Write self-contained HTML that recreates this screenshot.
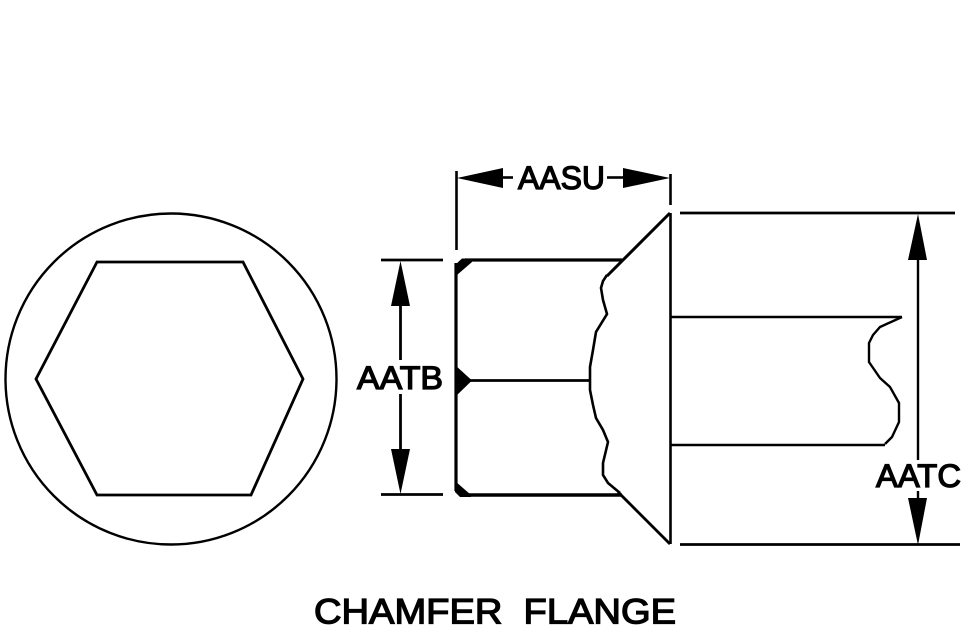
<!DOCTYPE html>
<html>
<head>
<meta charset="utf-8">
<style>
html,body{margin:0;padding:0;background:#fff}
svg{display:block}
text{font-family:"Liberation Sans",sans-serif;fill:#000;stroke:#000;stroke-width:1.3}
</style>
</head>
<body>
<svg width="968" height="640" viewBox="0 0 968 640" xmlns="http://www.w3.org/2000/svg" fill="none" stroke="#000">
<!-- Left view -->
<circle cx="171" cy="379" r="165.5" stroke-width="2.400"/>
<polygon points="97,262 243,262 303,379 251,495 97,495 36,379" stroke-width="2.800"/>

<!-- AASU dimension -->
<line x1="456.500" y1="171" x2="456.500" y2="250" stroke-width="2.600"/>
<line x1="670.500" y1="174" x2="670.500" y2="205" stroke-width="2.600"/>
<polygon points="457,178 503,168 503,188" fill="#000" stroke="none"/>
<line x1="503" y1="177.500" x2="513" y2="177.500" stroke-width="2.600"/>
<polygon points="670,178 623,168 623,188" fill="#000" stroke="none"/>
<line x1="607" y1="177.500" x2="623" y2="177.500" stroke-width="2.600"/>
<text x="518" y="189" font-size="32" textLength="87" lengthAdjust="spacingAndGlyphs">AASU</text>

<!-- AATB dimension -->
<line x1="381" y1="260" x2="443" y2="260" stroke-width="2.800"/>
<line x1="381" y1="494.500" x2="443" y2="494.500" stroke-width="2.800"/>
<polygon points="400.500,261 391,306 410,306" fill="#000" stroke="none"/>
<polygon points="400.500,494 391,449 410,449" fill="#000" stroke="none"/>
<line x1="400.500" y1="306" x2="400.500" y2="360" stroke-width="2.800"/>
<line x1="400.500" y1="394" x2="400.500" y2="449" stroke-width="2.800"/>
<text x="357" y="389" font-size="32" textLength="86" lengthAdjust="spacingAndGlyphs">AATB</text>

<!-- Head -->
<line x1="456" y1="263" x2="456" y2="491" stroke-width="3.200"/>
<line x1="465" y1="260" x2="622" y2="260" stroke-width="3.200"/>
<line x1="465" y1="495" x2="622" y2="495" stroke-width="3.600"/>
<line x1="465" y1="380.500" x2="591" y2="380.500" stroke-width="2.800"/>
<polygon points="455,265 462,258.500 472,258.500 472,262 457,275 455,275" fill="#000" stroke="none"/>
<polygon points="455,365 472,380.500 455,397" fill="#000" stroke="none"/>
<polygon points="455,481 471,495 471,497 460,497 455,492" fill="#000" stroke="none"/>

<!-- Flange -->
<line x1="670.500" y1="213" x2="670.500" y2="544" stroke-width="2.600"/>
<line x1="670" y1="213" x2="607" y2="276" stroke-width="3"/>
<line x1="670" y1="544" x2="618" y2="492" stroke-width="2.800"/>
<polyline points="607,275 603,281 601,288 603,300 607,314 596,332 593,350 590,367 590,390 593,405 596,418 603,430 608,442 603,463 603,475 608,483 620,493" stroke-width="2.600"/>

<!-- Shank -->
<line x1="671" y1="317" x2="902" y2="317" stroke-width="2.400"/>
<line x1="671" y1="445" x2="885" y2="445" stroke-width="2.400"/>
<polyline points="902,317 880,327 873,335 869,343 869,362 880,378 890,387 899,403 899,422 892,437 885,444" stroke-width="2.400"/>

<!-- AATC dimension -->
<line x1="680" y1="213" x2="955" y2="213" stroke-width="2.800"/>
<line x1="680" y1="544.500" x2="960" y2="544.500" stroke-width="2.800"/>
<line x1="918" y1="258" x2="918" y2="460" stroke-width="2.400"/>
<line x1="918" y1="491" x2="918" y2="500" stroke-width="2.400"/>
<polygon points="918,214 908,260 927,260" fill="#000" stroke="none"/>
<polygon points="918,545 908,498 927,498" fill="#000" stroke="none"/>
<text x="876" y="487" font-size="32" textLength="85" lengthAdjust="spacingAndGlyphs">AATC</text>

<!-- Title -->
<text x="314" y="623.500" font-size="35.500" textLength="362" lengthAdjust="spacingAndGlyphs" style="white-space:pre" xml:space="preserve">CHAMFER  FLANGE</text>
</svg>
</body>
</html>
